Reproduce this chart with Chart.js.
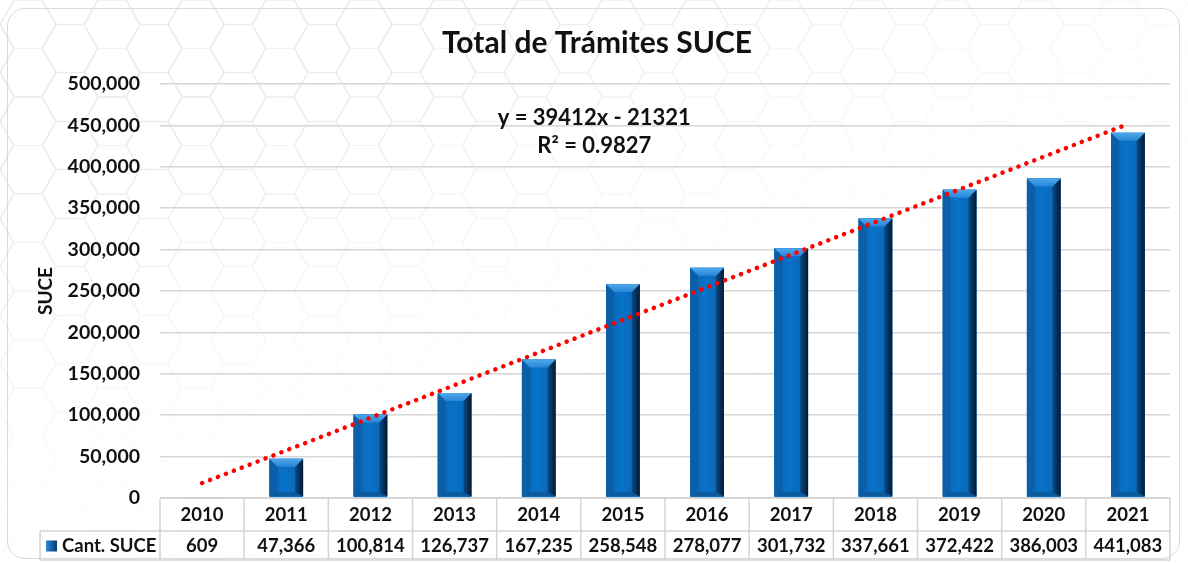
<!DOCTYPE html>
<html>
<head>
<meta charset="utf-8">
<script src="https://cdn.jsdelivr.net/npm/chart.js@4.4.0/dist/chart.umd.min.js"></script>
<style>
  html, body { margin: 0; padding: 0; background: #fff; }
  #wrap {
    position: absolute; left: 0; top: 0; width: 1188px; height: 563px;
    background-image: url("data:image/svg+xml;utf8,<svg xmlns='http://www.w3.org/2000/svg' width='84' height='48.5'><path d='M0,24.25 L14,0 L42,0 L56,24.25 L42,48.5 L14,48.5 Z M56,24.25 L84,24.25' fill='none' stroke='%23e9ebee' stroke-width='1.6'/></svg>");
  }
  #fade {
    position: absolute; left: 0; top: 0; width: 1188px; height: 563px;
    background: linear-gradient(160deg, rgba(255,255,255,0) 18%, rgba(255,255,255,0.8) 48%, #fff 72%);
  }
  #panel {
    position: absolute; left: 7px; top: 8px; width: 1173px; height: 551px;
    border: 1.5px solid #d3dbe6; border-radius: 18px; box-sizing: border-box;
  }
  #box { position: absolute; left: 0; top: 0; width: 1188px; height: 563px; }
</style>
</head>
<body>
<div id="wrap"></div>
<div id="fade"></div>
<div id="panel"></div>
<div id="box"><canvas id="chart"></canvas></div>
<script>
// data
var years = ["2010", "2011", "2012", "2013", "2014", "2015", "2016", "2017", "2018", "2019", "2020", "2021"];
var cantSuce = [609, 47366, 100814, 126737, 167235, 258548, 278077, 301732, 337661, 372422, 386003, 441083];
var trendYears = ["2010", "2021"];
var trendValues = [18091, 451623];
var equationLines = ["y = 39412x - 21321", "R² = 0.9827"];
var seriesName = "Cant. SUCE";

var FONT = "Lato, 'Open Sans', sans-serif";

function fmt(v) { return v.toLocaleString("en-US"); }

// 3D bevel look on the bars
var bevelPlugin = {
    id: "bevel",
    afterDatasetDraw: function (chart, args) {
        if (args.index !== 0) return;
        var ctx = chart.ctx;
        args.meta.data.forEach(function (bar) {
            var p = bar.getProps(["x", "y", "width", "base"], true);
            var l = p.x - p.width / 2, r = p.x + p.width / 2, t = p.y, b = p.base - 1;
            if (b - t < 1) return;
            var d = Math.min(8, (b - t) / 2);
            var db = Math.min(4, (b - t) / 2);
            ctx.save();
            // face
            var g = ctx.createLinearGradient(l, 0, r, 0);
            g.addColorStop(0, "#0a62ae");
            g.addColorStop(0.45, "#0872c9");
            g.addColorStop(1, "#0a62ae");
            ctx.fillStyle = g;
            ctx.fillRect(l, t, r - l, b - t);
            // left
            ctx.beginPath();
            ctx.moveTo(l, t); ctx.lineTo(l + d, t + d); ctx.lineTo(l + d, b - db); ctx.lineTo(l, b); ctx.closePath();
            ctx.fillStyle = "#0b5fa8"; ctx.fill();
            // bottom
            ctx.beginPath();
            ctx.moveTo(l, b); ctx.lineTo(l + d, b - db); ctx.lineTo(r - d, b - db); ctx.lineTo(r, b); ctx.closePath();
            ctx.fillStyle = "#0b5a9c"; ctx.fill();
            // right
            ctx.beginPath();
            ctx.moveTo(r, t); ctx.lineTo(r, b); ctx.lineTo(r - d, b - db); ctx.lineTo(r - d, t + d); ctx.closePath();
            var gr = ctx.createLinearGradient(r - d, 0, r, 0);
            gr.addColorStop(0, "#0a4a86"); gr.addColorStop(1, "#031a33");
            ctx.fillStyle = gr; ctx.fill();
            // top
            ctx.beginPath();
            ctx.moveTo(l, t); ctx.lineTo(r, t); ctx.lineTo(r - d, t + d); ctx.lineTo(l + d, t + d); ctx.closePath();
            var gt = ctx.createLinearGradient(0, t, 0, t + d);
            gt.addColorStop(0, "#4fa8ec"); gt.addColorStop(1, "#2786d6");
            ctx.fillStyle = gt; ctx.fill();
            ctx.restore();
        });
    }
};

// trendline equation + data table under the plot
var tablePlugin = {
    id: "dataTable",
    afterDraw: function (chart) {
        var ctx = chart.ctx, area = chart.chartArea, xs = chart.scales.x;
        var step = (area.right - area.left) / years.length;
        var top = area.bottom, mid = top + 33, bot = mid + 29;
        var tableLeft = 40;
        ctx.save();

        // equation label
        ctx.fillStyle = "#111";
        ctx.font = "bold 22px " + FONT;
        ctx.textAlign = "center";
        ctx.textBaseline = "middle";
        var ex = area.left + (area.right - area.left) * 0.43;
        ctx.fillText(equationLines[0], ex, area.top + 34);
        ctx.fillText(equationLines[1], ex, area.top + 62);

        // grid of the table
        ctx.strokeStyle = "#d4d4d4";
        ctx.lineWidth = 1.5;
        ctx.beginPath();
        ctx.moveTo(area.left, top); ctx.lineTo(area.right, top);
        ctx.moveTo(tableLeft, mid); ctx.lineTo(area.right, mid);
        ctx.moveTo(tableLeft, bot); ctx.lineTo(area.right, bot);
        ctx.moveTo(tableLeft, mid); ctx.lineTo(tableLeft, bot);
        for (var i = 0; i <= years.length; i++) {
            var gx = area.left + step * i;
            ctx.moveTo(gx, top); ctx.lineTo(gx, bot);
        }
        ctx.stroke();

        ctx.font = "bold 18.5px " + FONT;
        ctx.fillStyle = "#111";
        years.forEach(function (y, i) {
            var cx = xs.getPixelForValue(i);
            ctx.fillText(y, cx, (top + mid) / 2 + 1);
            ctx.fillText(fmt(cantSuce[i]), cx, (mid + bot) / 2 + 1);
        });

        // legend key
        var ky = (mid + bot) / 2;
        var gk = ctx.createLinearGradient(46, 0, 57, 0);
        gk.addColorStop(0, "#2a8ad8"); gk.addColorStop(1, "#063a6e");
        ctx.fillStyle = gk;
        ctx.fillRect(46, ky - 5, 11, 11);
        ctx.fillStyle = "#111";
        ctx.textAlign = "left";
        ctx.fillText(seriesName, 62, ky + 1);
        ctx.restore();
    }
};

var ctx = document.getElementById("chart").getContext("2d");
var chart = new Chart(ctx, {
    data: {
        labels: years,
        datasets: [
            {
                type: "bar",
                label: seriesName,
                data: cantSuce,
                backgroundColor: "#0872c9",
                barPercentage: 0.4,
                categoryPercentage: 1.0,
                order: 1
            },
            {
                type: "line",
                label: "Tendencia",
                data: trendYears.map(function (y, i) { return { x: y, y: trendValues[i] }; }),
                borderColor: "#ff0000",
                borderWidth: 4.5,
                borderDash: [0.1, 8.4],
                borderCapStyle: "round",
                pointRadius: 0,
                fill: false,
                order: 0
            }
        ]
    },
    options: {
        responsive: true,
        maintainAspectRatio: false,
        animation: false,
        layout: { padding: { left: 24, right: 18, top: 0, bottom: 65 } },
        plugins: {
            legend: { display: false },
            tooltip: { enabled: false },
            title: {
                display: true,
                text: "Total de Trámites SUCE",
                color: "#111",
                font: { family: FONT, size: 30, weight: "bold" },
                padding: { top: 25, bottom: 23 }
            }
        },
        scales: {
            x: { display: false },
            y: {
                min: 0,
                max: 500000,
                afterFit: function (s) { s.width = 136; },
                ticks: {
                    stepSize: 50000,
                    padding: 20,
                    color: "#111",
                    font: { family: FONT, size: 19.5, weight: "bold" },
                    callback: function (v) { return fmt(v); }
                },
                grid: { color: "#d6d6d6", lineWidth: 1.5, drawTicks: false },
                border: { display: false },
                title: {
                    display: true,
                    text: "SUCE",
                    color: "#111",
                    font: { family: FONT, size: 19, weight: "bold" },
                    padding: { top: 10, bottom: 0 }
                }
            }
        }
    },
    plugins: [bevelPlugin, tablePlugin]
});
</script>
</body>
</html>
